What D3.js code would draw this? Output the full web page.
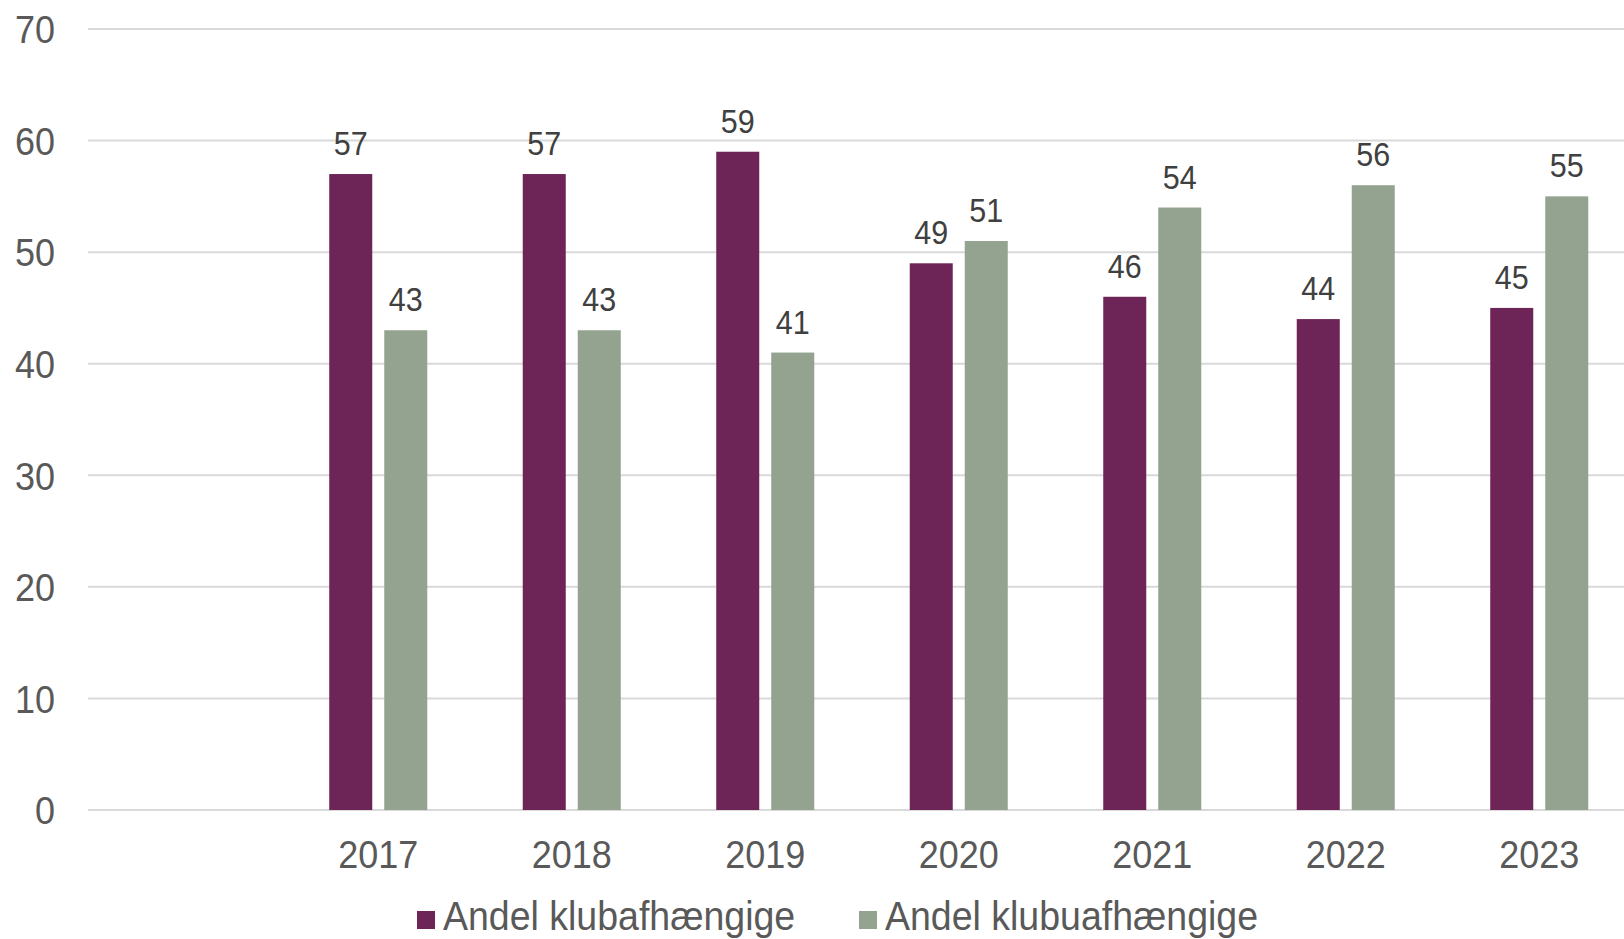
<!DOCTYPE html>
<html>
<head>
<meta charset="utf-8">
<script src="https://cdn.jsdelivr.net/npm/d3@7"></script>
<style>
  body { margin: 0; background: #fff; }
  text { font-family: "Liberation Sans", Arial, sans-serif; }
</style>
</head>
<body>
<div id="chart"></div>
<script>
// categories (first slot is empty in the original chart)
const years = ["", "2017", "2018", "2019", "2020", "2021", "2022", "2023"];
const klubafhaengige = [null, 57, 57, 59, 49, 46, 44, 45];
const klubuafhaengige = [null, 43, 43, 41, 51, 54, 56, 55];
const seriesNames = ["Andel klubafhængige", "Andel klubuafhængige"];
const yTicks = [0, 10, 20, 30, 40, 50, 60, 70];

const width = 1624;
const height = 939;
const colors = ["#6d2457", "#94a38f"];
const stretch = 1.06; // the original text is slightly taller than wide

const svg = d3.select("#chart")
  .append("svg")
  .attr("width", width)
  .attr("height", height);

// plot runs off the right edge, like the cropped original
const x0 = d3.scaleBand()
  .domain(years)
  .range([88, 1636])
  .paddingInner(0)
  .paddingOuter(0);

const x1 = d3.scaleBand()
  .domain([0, 1])
  .range([0, x0.bandwidth()])
  .paddingInner(0.218)
  .paddingOuter(0.868);

const y = d3.scaleLinear()
  .domain([0, 70])
  .range([810, 29]);

// gridlines
svg.append("g")
  .selectAll("line")
  .data(yTicks)
  .enter()
  .append("line")
  .attr("x1", 88)
  .attr("x2", width)
  .attr("y1", (d) => y(d))
  .attr("y2", (d) => y(d))
  .attr("stroke", "#d9d9d9")
  .attr("stroke-width", 2);

// y axis labels
const yAxis = d3.axisLeft(y).tickValues(yTicks).tickSize(0).tickPadding(0);
const yAxisG = svg.append("g")
  .attr("transform", "translate(55,0)")
  .call(yAxis);
yAxisG.select(".domain").remove();
yAxisG.selectAll("text")
  .attr("font-size", 36)
  .attr("fill", "#595959")
  .attr("dy", "0.36em")
  .attr("transform", `scale(1,${stretch})`)
  .style("font-family", "Liberation Sans, Arial, sans-serif");

// x axis labels
const xAxis = d3.axisBottom(x0).tickSize(0).tickPadding(0);
const xAxisG = svg.append("g")
  .attr("transform", "translate(0,868)")
  .call(xAxis);
xAxisG.select(".domain").remove();
xAxisG.selectAll("text")
  .attr("y", 0)
  .attr("dy", 0)
  .attr("font-size", 36)
  .attr("fill", "#595959")
  .attr("transform", `scale(1,${stretch})`)
  .style("font-family", "Liberation Sans, Arial, sans-serif");

// bars
const seriesData = [klubafhaengige, klubuafhaengige];
seriesData.forEach((values, s) => {
  const rows = years.map((yr, i) => ({ year: yr, value: values[i] }))
    .filter((d) => d.value !== null);

  svg.append("g")
    .selectAll("rect")
    .data(rows)
    .enter()
    .append("rect")
    .attr("x", (d) => x0(d.year) + x1(s))
    .attr("y", (d) => y(d.value))
    .attr("width", x1.bandwidth())
    .attr("height", (d) => y(0) - y(d.value))
    .attr("fill", colors[s]);

  svg.append("g")
    .selectAll("text")
    .data(rows)
    .enter()
    .append("text")
    .attr("transform", (d) =>
      `translate(${x0(d.year) + x1(s) + x1.bandwidth() / 2},${y(d.value) - 19}) scale(1,${stretch})`)
    .attr("text-anchor", "middle")
    .attr("font-size", 30.5)
    .attr("fill", "#404040")
    .text((d) => d.value);
});

// legend
const legendX = [417, 859];
seriesNames.forEach((name, i) => {
  svg.append("rect")
    .attr("x", legendX[i])
    .attr("y", 911)
    .attr("width", 18)
    .attr("height", 18)
    .attr("fill", colors[i]);
  svg.append("text")
    .attr("transform", `translate(${legendX[i] + 26},930) scale(1,${stretch})`)
    .attr("font-size", 37.5)
    .attr("fill", "#595959")
    .text(name);
});
</script>
</body>
</html>
